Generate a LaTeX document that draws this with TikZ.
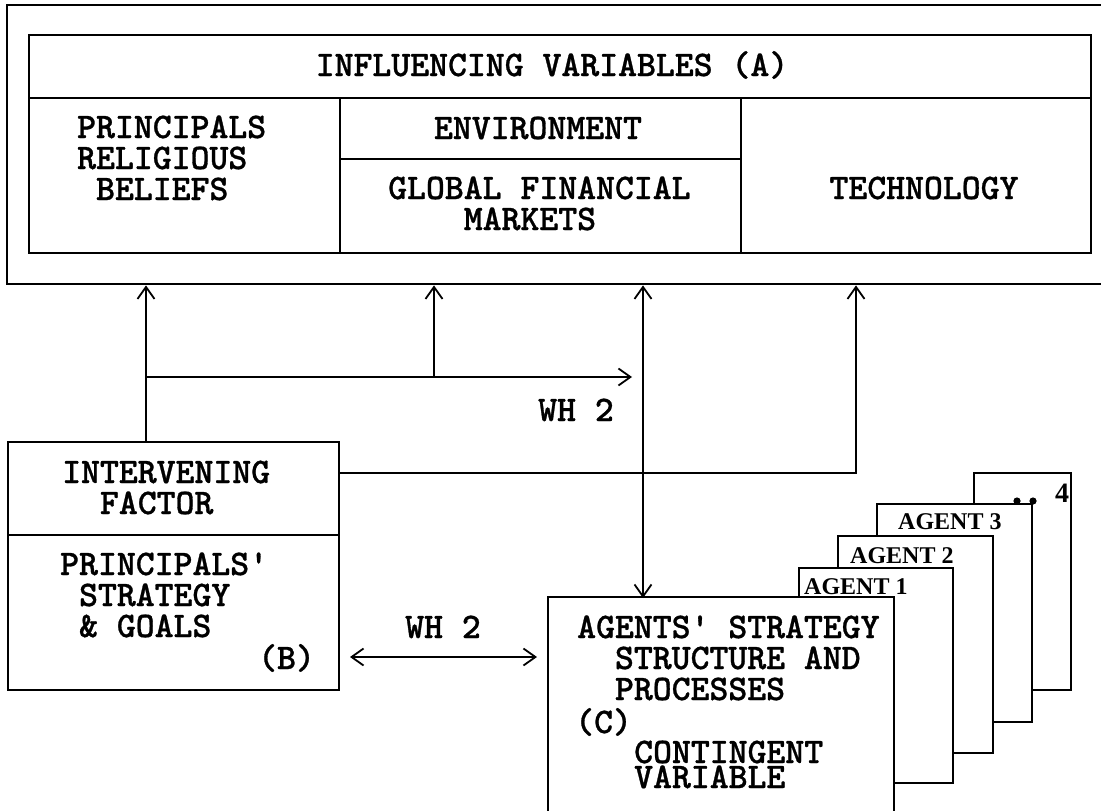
\documentclass[tikz,border=0pt]{standalone}
\usepackage{fontspec}
\newfontfamily\typefont{lmmonolt10-bold}[Extension=.otf, FakeBold=0.8]
\newfontfamily\agentfont{Liberation Serif}
\usetikzlibrary{arrows.meta}
\begin{document}
\begin{tikzpicture}[x=1pt,y=-1pt,
  box/.style={draw, line width=2.4pt, fill=white, inner sep=0pt, anchor=north west},
  rule/.style={line width=2.4pt},
  conn/.style={line width=1.8pt},
  barb/.tip={Straight Barb[length=12pt,width=17pt,line width=1.8pt]},
  tip/.style={-barb},
  both/.style={barb-barb},
  txt/.style={font=\typefont\fontsize{36}{31}\selectfont, inner sep=0pt, align=left, anchor=base west},
  ctxt/.style={txt, anchor=base},
  agent/.style={font=\agentfont\bfseries\fontsize{24}{24}\selectfont, inner sep=0pt, anchor=base west}]
\useasboundingbox (0,0) rectangle (1101,811);

% influencing variables: outer frame and inner table
\node[box, minimum width=1100pt, minimum height=279pt] (A) at (6,4) {};
\node[box, minimum width=1062pt, minimum height=218pt] (IV) at (28,34) {};
\draw[rule] (28,98) -- (1090,98);
\draw[rule] (340,98) -- (340,252);
\draw[rule] (741,98) -- (741,252);
\draw[rule] (340,159) -- (741,159);
% multi-line texts are placed by the baseline of their last line
\node[ctxt] (ivt) at (552,76) {INFLUENCING VARIABLES (A)};
\node[txt] (rel) at (77,200) {PRINCIPALS\\RELIGIOUS\\\ BELIEFS};
\node[ctxt] (env) at (538,139) {ENVIRONMENT};
\node[txt] (gfm) at (388,230) {GLOBAL FINANCIAL\\\ \ \ \ MARKETS};
\node[ctxt] (tech) at (924,199) {TECHNOLOGY};

% intervening factor
\node[box, minimum width=331pt, minimum height=248pt] (B) at (7,441) {};
\draw[rule] (7,535) -- (338,535);
\node[txt] (ifac) at (62,514) {INTERVENING\\\ \ FACTOR};
\node[txt] (psg) at (60,637) {PRINCIPALS'\\\ STRATEGY\\\ \& GOALS};
\node[txt] (bl) at (258,669) {(B)};

% stack of agents
\node[box, minimum width=97pt, minimum height=217pt] (ag4) at (973,472) {};
\node[agent, font=\agentfont\bfseries\fontsize{28}{28}\selectfont] (n4) at (1055,502) {4};
\node[box, minimum width=155pt, minimum height=218pt] (ag3) at (876,503) {};
\node[agent] (a3) at (898,529) {AGENT 3};
\fill (1017,501) circle (3.6pt) (1033,501) circle (3.6pt);
\node[box, minimum width=155pt, minimum height=217pt] (ag2) at (837,535) {};
\node[agent] (a2) at (850,563) {AGENT 2};
\node[box, minimum width=154pt, minimum height=215pt] (ag1) at (798,567) {};
\node[agent] (a1) at (804,594) {AGENT 1};

% agents' strategy box
\node[box, minimum width=346pt, minimum height=240pt] (C) at (547,596) {};
\node[txt] (ast) at (577,700) {AGENTS' STRATEGY\\\ \ STRUCTURE AND\\\ \ PROCESSES};
\node[txt] (cl) at (575,733) {(C)};
\node[txt, font=\typefont\fontsize{36}{25}\selectfont] (cv) at (634,788) {CONTINGENT\\VARIABLE};

% junctions and free ends of the connectors
\coordinate (j1) at (146,377);
\coordinate (j2) at (434,377);
\coordinate (j3) at (643,377);
\coordinate (jt) at (856,473);
\coordinate (e1) at (632,377);
\coordinate (l1) at (350,657);
\coordinate (l2) at (537,657);

\draw[conn,tip] (B.north -| j1) -- (A.south -| j1);
\draw[conn,tip] (j1) -- (e1);
\draw[conn,tip] (j2) -- (A.south -| j2);
\draw[conn,both] (A.south -| j3) -- ([yshift=-2pt]C.north -| j3);
\draw[conn,tip] (B.east |- jt) -- (jt) -- (A.south -| jt);
\draw[conn,both] (l1) -- (l2);

\node[ctxt] (wh1) at (576,421) {WH 2};
\node[ctxt] (wh2) at (443,638) {WH 2};
\end{tikzpicture}
\end{document}
